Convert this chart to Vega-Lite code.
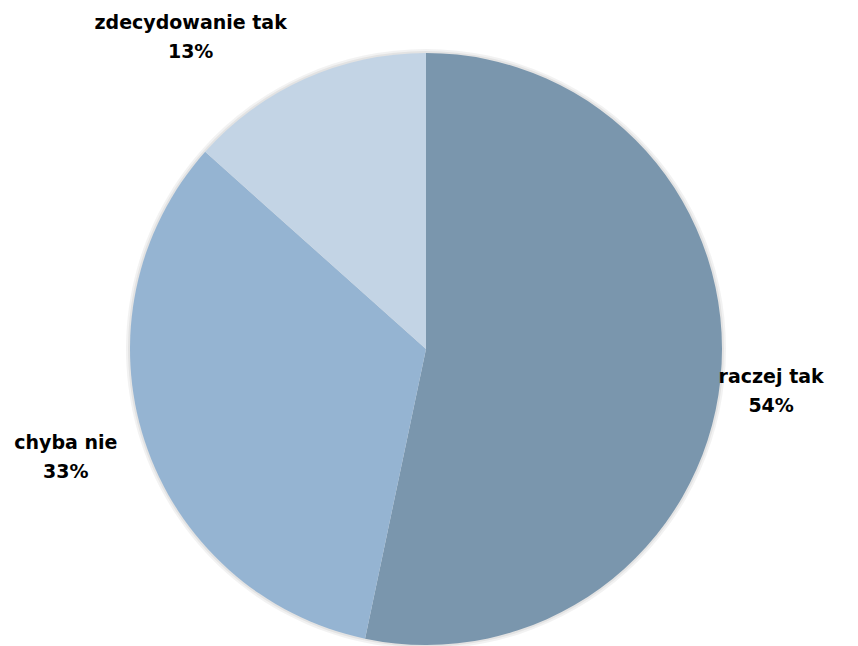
{
  "$schema": "https://vega.github.io/schema/vega-lite/v6.json",
  "width": 852,
  "height": 592,
  "autosize": {"type": "none"},
  "padding": {"left": 0, "top": 53, "right": 6, "bottom": 1},
  "background": "white",
  "view": {"stroke": null},
  "data": {
    "values": [
      {"category": "raczej tak", "value": 53.3, "pct": "54%", "order": 1},
      {"category": "chyba nie", "value": 33.3, "pct": "33%", "order": 2},
      {"category": "zdecydowanie tak", "value": 13.4, "pct": "13%", "order": 3}
    ]
  },
  "transform": [
    {"calculate": "datum.category + '\\n' + datum.pct", "as": "label"}
  ],
  "encoding": {
    "theta": {"field": "value", "type": "quantitative", "stack": true},
    "order": {"field": "order", "type": "quantitative"}
  },
  "layer": [
    {
      "mark": {"type": "arc", "outerRadius": 300, "fill": "#000000", "fillOpacity": 0.05, "stroke": null}
    },
    {
      "mark": {"type": "arc", "outerRadius": 298, "fill": "#000000", "fillOpacity": 0.06, "stroke": null}
    },
    {
      "mark": {"type": "arc", "outerRadius": 296, "stroke": null},
      "encoding": {
        "color": {
          "field": "category",
          "type": "nominal",
          "scale": {
            "domain": ["raczej tak", "chyba nie", "zdecydowanie tak"],
            "range": ["#7A96AD", "#95B4D2", "#C3D4E5"]
          },
          "legend": null
        }
      }
    },
    {
      "mark": {"type": "text", "radius": 347, "dy": -2, "font": "DejaVu Sans", "fontWeight": "bold", "fontSize": 19, "lineBreak": "\n", "lineHeight": 29, "align": "center", "baseline": "alphabetic", "color": "#000000"},
      "encoding": {
        "text": {"condition": {"test": "datum.category === 'raczej tak'", "field": "label"}, "value": ""}
      }
    },
    {
      "mark": {"type": "text", "radius": 376, "dx": -3, "dy": -17, "font": "DejaVu Sans", "fontWeight": "bold", "fontSize": 19, "lineBreak": "\n", "lineHeight": 29, "align": "center", "baseline": "alphabetic", "color": "#000000"},
      "encoding": {
        "text": {"condition": {"test": "datum.category === 'chyba nie'", "field": "label"}, "value": ""}
      }
    },
    {
      "mark": {"type": "text", "radius": 341, "dx": -96, "dy": -9, "font": "DejaVu Sans", "fontWeight": "bold", "fontSize": 19, "lineBreak": "\n", "lineHeight": 29, "align": "center", "baseline": "alphabetic", "color": "#000000"},
      "encoding": {
        "text": {"condition": {"test": "datum.category === 'zdecydowanie tak'", "field": "label"}, "value": ""}
      }
    }
  ]
}
